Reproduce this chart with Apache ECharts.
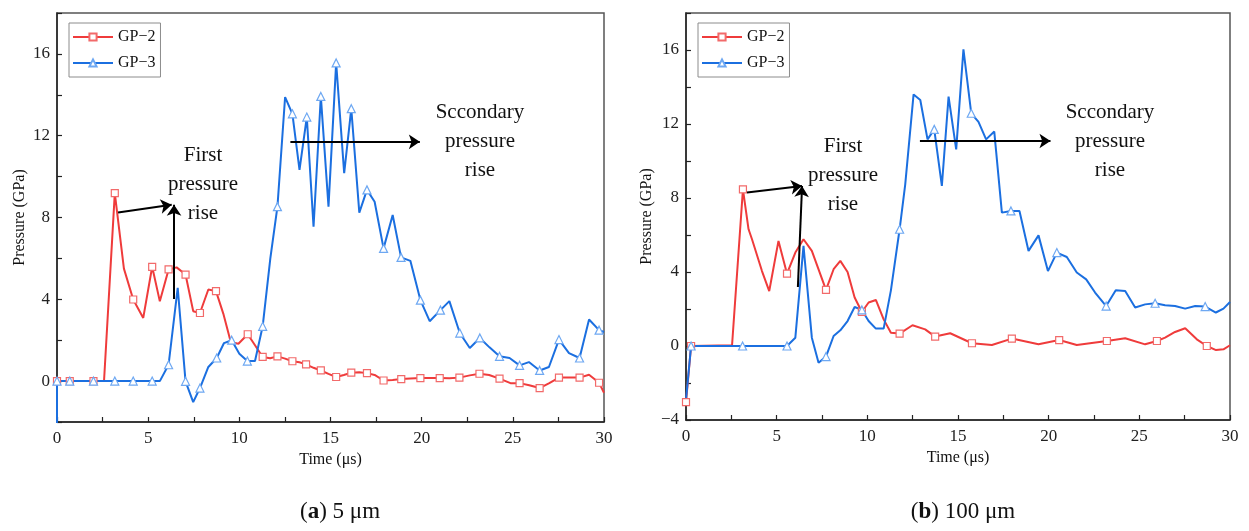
<!DOCTYPE html>
<html>
<head>
<meta charset="utf-8">
<script src="https://cdn.jsdelivr.net/npm/echarts@6/dist/echarts.min.js"></script>
<style>
  html, body { margin: 0; padding: 0; background: #fff; }
  #chart { width: 1249px; height: 531px; }
</style>
</head>
<body>
<div id="chart"></div>
<script>
// Pressure histories at gauge points GP-2 and GP-3, two particle sizes.
// (a) 5 µm
const timeA2 = [0, 0.70, 2.0, 2.58, 3.17, 3.67, 4.18, 4.73, 5.22, 5.64, 6.12, 6.56, 7.05, 7.47, 7.84, 8.30, 8.72, 9.12, 9.53, 9.95,
  10.46, 10.86, 11.28, 11.69, 12.09, 12.51, 12.91, 13.3, 13.66, 14.07, 14.47, 14.89, 15.31, 15.73, 16.14, 16.58, 17.0, 17.42, 17.91, 18.41,
  18.88, 19.38, 19.93, 20.44, 20.99, 21.52, 22.07, 22.64, 23.17, 23.7, 24.27, 24.87, 25.37, 25.9, 26.47, 27.0, 27.53, 28.1, 28.66, 29.18,
  29.73, 30];
const gp2A = [0, 0, 0, 0.02, 9.19, 5.5, 3.99, 3.09, 5.59, 3.9, 5.46, 5.56, 5.21, 3.42, 3.33, 4.48, 4.40, 3.3, 1.91, 1.83,
  2.29, 1.75, 1.18, 1.12, 1.21, 1.1, 0.97, 0.92, 0.82, 0.65, 0.52, 0.35, 0.2, 0.3, 0.41, 0.43, 0.39, 0.3, 0.03, 0.05,
  0.1, 0.13, 0.15, 0.15, 0.15, 0.14, 0.17, 0.28, 0.36, 0.3, 0.12, -0.1, -0.1, -0.2, -0.34, -0.1, 0.17, 0.18, 0.17, 0.31,
  -0.08, -0.57];
const gp2AMarks = [0, 1, 2, 4, 6, 8, 10, 12, 14, 16, 20, 22, 24, 26, 28, 30, 32, 34, 36, 38, 40, 42, 44, 46, 48, 50, 52, 54, 56, 58, 60];

const timeA3 = [0, 0, 0.70, 2.0, 3.17, 4.18, 5.22, 5.64, 6.12, 6.62, 7.05, 7.47, 7.84, 8.3, 8.76, 9.16, 9.58, 10.0, 10.44, 10.86,
  11.28, 11.7, 12.09, 12.51, 12.91, 13.3, 13.7, 14.07, 14.47, 14.89, 15.31, 15.75, 16.14, 16.58, 17.0, 17.42, 17.91, 18.41, 18.87, 19.38,
  19.93, 20.44, 21.03, 21.52, 22.09, 22.64, 23.19, 23.72, 24.27, 24.82, 25.37, 25.88, 26.47, 26.98, 27.53, 28.08, 28.66, 29.18, 29.73, 30];
const gp3A = [-2.6, 0, 0, 0, 0, 0, 0, 0, 0.8, 4.56, -0.01, -1.03, -0.34, 0.69, 1.13, 1.86, 2.0, 1.34, 0.98, 0.98,
  2.68, 6.0, 8.53, 13.89, 13.07, 10.33, 12.91, 7.55, 13.92, 8.53, 15.56, 10.17, 13.32, 8.24, 9.35, 8.77, 6.49, 8.12, 6.05, 5.88,
  3.96, 2.93, 3.47, 3.91, 2.35, 1.62, 2.11, 1.65, 1.21, 1.13, 0.77, 0.93, 0.52, 0.69, 2.03, 1.37, 1.13, 3.01, 2.49, 2.4];
const gp3AMarks = [1, 2, 3, 4, 5, 6, 8, 10, 12, 14, 16, 18, 20, 22, 24, 26, 28, 30, 32, 34, 36, 38, 40, 42, 44, 46, 48, 50, 52, 54, 56, 58];

// (b) 100 µm
const timeB2 = [0, 0.28, 2.54, 3.14, 3.45, 3.64, 4.19, 4.59, 5.1, 5.57, 6.03, 6.48, 6.94, 7.72, 8.14, 8.51, 8.91, 9.3, 9.7, 10.07,
  10.47, 10.9, 11.3, 11.78, 12.49, 13.19, 13.74, 14.57, 15.77, 16.87, 17.97, 19.44, 20.58, 21.55, 23.21, 24.22, 25.32, 25.97, 26.42, 26.97,
  27.53, 28.17, 28.72, 29.23, 29.64, 30];
const gp2B = [-3.03, 0, 0.04, 8.47, 6.31, 5.77, 4.05, 2.97, 5.68, 3.91, 5.05, 5.77, 5.14, 3.03, 4.15, 4.6, 4.0, 2.62, 1.84, 2.35,
  2.49, 1.44, 0.72, 0.67, 1.12, 0.9, 0.51, 0.69, 0.15, 0.05, 0.4, 0.09, 0.32, 0.05, 0.27, 0.42, 0.09, 0.27, 0.45, 0.76,
  0.96, 0.36, 0.0, -0.22, -0.18, 0.04];
const gp2BMarks = [0, 1, 3, 9, 13, 18, 23, 26, 28, 30, 32, 34, 37, 42];

const timeB3 = [0, 0.28, 3.12, 5.57, 6.03, 6.48, 6.94, 7.31, 7.72, 8.14, 8.51, 8.91, 9.3, 9.7, 10.07, 10.47, 10.9, 11.3, 11.78, 12.09,
  12.55, 12.92, 13.32, 13.69, 14.11, 14.48, 14.9, 15.3, 15.73, 16.13, 16.55, 17.0, 17.42, 17.92, 18.39, 18.89, 19.44, 19.96, 20.45, 21.0,
  21.55, 22.07, 22.56, 23.17, 23.7, 24.22, 24.77, 25.32, 25.87, 26.42, 26.97, 27.53, 28.08, 28.63, 29.22, 29.64, 30];
const gp3B = [-2.9, 0, 0, 0, 0.45, 5.41, 0.45, -0.9, -0.57, 0.54, 0.85, 1.35, 2.11, 1.95, 1.35, 0.94, 0.94, 3.01, 6.31, 8.74,
  13.6, 13.3, 11.17, 11.71, 8.65, 13.48, 10.63, 16.04, 12.58, 12.11, 11.17, 11.59, 7.21, 7.3, 7.3, 5.14, 5.98, 4.05, 5.05, 4.81,
  3.97, 3.6, 2.89, 2.16, 3.01, 2.97, 2.08, 2.25, 2.31, 2.2, 2.16, 2.02, 2.16, 2.13, 1.81, 2.02, 2.38];
const gp3BMarks = [1, 2, 3, 8, 13, 18, 23, 28, 33, 38, 43, 48, 53];

const xTicks = { min: 0, max: 30, step: 2.5, labelEvery: 5 };
const yRangeA = { min: -2, max: 18 };
const yRangeB = { min: -4, max: 18 };
const panelCaptions = [['a', '5 μm'], ['b', '100 μm']];

// Annotation arrows, in data coordinates: [from, to]
const arrowsA = [[[3.35, 8.24], [6.29, 8.62]], [[6.42, 4.02], [6.42, 8.62]], [[12.8, 11.7], [19.9, 11.7]]];
const arrowsB = [[[3.36, 8.3], [6.4, 8.65]], [[6.17, 3.19], [6.4, 8.65]], [[12.9, 11.08], [20.1, 11.08]]];

const SERIF = '"Liberation Serif", "Times New Roman", serif';
const RED = '#ef3b3b', RED_MK = '#f26a6a';
const BLUE = '#1b6fe0', BLUE_MK = '#6ea8f2';

function points(times, values, marks) {
  return times.map((t, i) => marks.includes(i)
    ? [t, values[i]]
    : { value: [t, values[i]], symbol: 'none' });
}

function arrowLines(list) {
  return list.map(([a, b]) => [{ coord: a }, { coord: b }]);
}

function curve(name, idx, times, values, marks, color, markColor, symbol, size, arrows) {
  const s = {
    name, type: 'line', xAxisIndex: idx, yAxisIndex: idx,
    data: points(times, values, marks),
    symbol, symbolSize: size, showAllSymbol: true,
    lineStyle: { color, width: 2 },
    itemStyle: { color: '#fff', borderColor: markColor, borderWidth: 1.2 },
    emphasis: { disabled: true },
    animation: false
  };
  if (arrows) {
    s.markLine = {
      silent: true, animation: false,
      symbol: ['none', 'arrow'], symbolSize: 11,
      label: { show: false },
      lineStyle: { color: '#000', width: 2, type: 'solid' },
      emphasis: { disabled: true },
      data: arrowLines(arrows)
    };
  }
  return s;
}

function xAxis(idx) {
  return {
    type: 'value', gridIndex: idx, min: xTicks.min, max: xTicks.max, interval: xTicks.step,
    name: 'Time (μs)', nameLocation: 'middle', nameGap: 26,
    nameTextStyle: { fontFamily: SERIF, fontSize: 16, color: '#111' },
    axisLine: { onZero: false, lineStyle: { color: '#222', width: 1.5 } },
    axisTick: { inside: true, length: 5, lineStyle: { color: '#222', width: 1.2 } },
    axisLabel: {
      margin: 8, fontFamily: SERIF, fontSize: 17, color: '#222',
      formatter: v => (v % xTicks.labelEvery === 0 ? String(v) : '')
    },
    splitLine: { show: false }
  };
}

function yAxis(idx, range, gap) {
  return {
    type: 'value', gridIndex: idx, min: range.min, max: range.max, interval: 2,
    name: 'Pressure (GPa)', nameLocation: 'middle', nameGap: gap,
    nameTextStyle: { fontFamily: SERIF, fontSize: 16, color: '#111' },
    axisLine: { show: true, onZero: false, lineStyle: { color: '#222', width: 1.5 } },
    axisTick: { show: true, inside: true, length: 5, lineStyle: { color: '#222', width: 1.2 } },
    axisLabel: {
      margin: 7, fontFamily: SERIF, fontSize: 17, color: '#222',
      formatter: v => (v % 4 === 0 ? (v < 0 ? '\u2212' + (-v) : String(v)) : '')
    },
    splitLine: { show: false }
  };
}

function legend(left) {
  return {
    left, top: 23, orient: 'vertical',
    itemWidth: 40, itemHeight: 9, itemGap: 10,
    padding: [6, 5, 6, 3],
    borderColor: '#8c8c8c', borderWidth: 1, backgroundColor: '#fff',
    selectedMode: false,
    textStyle: { fontFamily: SERIF, fontSize: 16, color: '#111' },
    formatter: n => n.replace('-', '\u2212'),
    data: ['GP-2', 'GP-3']
  };
}

function note(x, y, text) {
  return {
    type: 'text', x, y, silent: true,
    style: { text, font: '21px ' + SERIF, fill: '#111', align: 'center', verticalAlign: 'middle', lineHeight: 29 }
  };
}

function caption(x, [letter, size]) {
  return {
    type: 'text', x, y: 512, silent: true,
    style: {
      text: '({b|' + letter + '}) ' + size,
      font: '23px ' + SERIF, fill: '#111', align: 'center', verticalAlign: 'middle',
      rich: { b: { fontWeight: 'bold', fontFamily: SERIF, fontSize: 23, fill: '#111' } }
    }
  };
}

const chart = echarts.init(document.getElementById('chart'), null, { renderer: 'canvas' });
chart.setOption({
  backgroundColor: '#fff',
  animation: false,
  grid: [
    { left: 57, top: 13, width: 547, height: 409, show: true, borderColor: '#555', borderWidth: 1.5, backgroundColor: 'transparent' },
    { left: 686, top: 13, width: 544, height: 407, show: true, borderColor: '#555', borderWidth: 1.5, backgroundColor: 'transparent' }
  ],
  xAxis: [xAxis(0), xAxis(1)],
  yAxis: [yAxis(0, yRangeA, 29), yAxis(1, yRangeB, 31)],
  legend: [legend(69), legend(698)],
  series: [
    curve('GP-2', 0, timeA2, gp2A, gp2AMarks, RED, RED_MK, 'rect', 7),
    curve('GP-3', 0, timeA3, gp3A, gp3AMarks, BLUE, BLUE_MK, 'triangle', 8, arrowsA),
    curve('GP-2', 1, timeB2, gp2B, gp2BMarks, RED, RED_MK, 'rect', 7),
    curve('GP-3', 1, timeB3, gp3B, gp3BMarks, BLUE, BLUE_MK, 'triangle', 8, arrowsB)
  ],
  graphic: [
    note(203, 184, 'First\npressure\nrise'),
    note(480, 141, 'Sccondary\npressure\nrise'),
    note(843, 175, 'First\npressure\nrise'),
    note(1110, 141, 'Sccondary\npressure\nrise'),
    caption(340, panelCaptions[0]),
    caption(963, panelCaptions[1])
  ]
});
</script>
</body>
</html>
